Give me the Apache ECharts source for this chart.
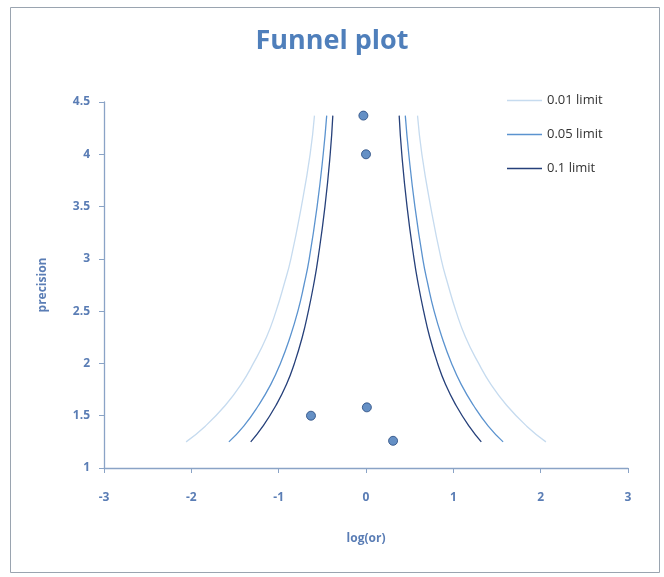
<!DOCTYPE html>
<html><head><meta charset="utf-8">
<script src="https://cdn.jsdelivr.net/npm/echarts@6/dist/echarts.min.js"></script>
<style>html,body{margin:0;padding:0;background:#fff}#c{width:664px;height:577px}</style>
</head><body><div id="c"></div>
<script>
// study points: [log(or), precision]
const studyX = [-0.03, 0.0, -0.63, 0.01, 0.31];
const studyY = [4.37, 4.0, 1.5, 1.58, 1.26];
// funnel limits
const precision = [1.25, 1.4, 1.6, 1.8, 2.0, 2.25, 2.5, 2.75, 3.0, 3.5, 4.0, 4.37];
const lim001 = [2.06, 1.84, 1.61, 1.43, 1.29, 1.14, 1.03, 0.94, 0.86, 0.74, 0.64, 0.59];
const lim005 = [1.57, 1.40, 1.23, 1.09, 0.98, 0.87, 0.78, 0.71, 0.65, 0.56, 0.49, 0.45];
const lim01  = [1.32, 1.18, 1.03, 0.91, 0.82, 0.73, 0.66, 0.60, 0.55, 0.47, 0.41, 0.38];
const limitNames = ['0.01 limit', '0.05 limit', '0.1 limit'];
const xTicks = [-3, -2, -1, 0, 1, 2, 3];
const yTicks = [1, 1.5, 2, 2.5, 3, 3.5, 4, 4.5];

const limitColors = ['#c6dbef', '#5b93cf', '#26407a'];
const limits = [lim001, lim005, lim01];
const series = [];
limits.forEach((arr, i) => {
  [-1, 1].forEach(sign => {
    series.push({
      name: limitNames[i], type: 'line', smooth: true, symbol: 'none',
      lineStyle: { color: limitColors[i], width: 1.3 },
      itemStyle: { color: limitColors[i] },
      data: precision.map((p, k) => [sign * arr[k], p]),
      z: 2
    });
  });
});
series.push({
  name: 'studies', type: 'scatter', symbolSize: 9,
  itemStyle: { color: '#3f74b6', borderColor: '#24477d', borderWidth: 1 },
  data: studyX.map((x, k) => [x, studyY[k]]), z: 5
});

const axisColor = '#8aa3c6';
const labelColor = '#5a7db5';
const font = 'Open Sans';
const chart = echarts.init(document.getElementById('c'));
chart.setOption({
  animation: false,
  backgroundColor: '#fff',
  title: { text: 'Funnel plot', left: 'center', top: 23,
    textStyle: { color: '#4f7fbb', fontSize: 27, fontWeight: 'bold', fontFamily: font } },
  legend: {
    show: true,
    data: limitNames.map(n => ({ name: n, icon: 'rect' })),
    orient: 'vertical', left: 502, top: 88,
    itemWidth: 35, itemHeight: 1.5, itemGap: 19,
    textStyle: { color: '#333', fontSize: 13, fontFamily: font, lineHeight: 15 }
  },
  grid: { left: 104, right: 36, top: 102, bottom: 109 },
  xAxis: {
    type: 'value', min: -3, max: 3, interval: 1,
    name: 'log(or)', nameLocation: 'middle', nameGap: 65,
    nameTextStyle: { color: labelColor, fontSize: 12, fontWeight: 'bold', fontFamily: font },
    axisLine: { onZero: false, lineStyle: { color: axisColor, width: 1.3 } },
    axisTick: { show: true, length: 5, lineStyle: { color: axisColor } },
    axisLabel: { color: labelColor, fontSize: 12, fontWeight: 'bold', fontFamily: font, margin: 24,
      formatter: v => xTicks.includes(v) ? String(v) : '' },
    splitLine: { show: false }
  },
  yAxis: {
    type: 'value', min: 1, max: 4.5, interval: 0.5,
    name: 'precision', nameLocation: 'middle', nameGap: 55, nameRotate: 90,
    nameTextStyle: { color: labelColor, fontSize: 12, fontWeight: 'bold', fontFamily: font },
    axisLine: { show: true, onZero: false, lineStyle: { color: axisColor, width: 1.3 } },
    axisTick: { show: true, length: 5, lineStyle: { color: axisColor } },
    axisLabel: { color: labelColor, fontSize: 12, fontWeight: 'bold', fontFamily: font, margin: 14,
      formatter: v => yTicks.includes(v) ? String(v) : '' },
    splitLine: { show: false }
  },
  graphic: [{ type: 'rect', left: 8, top: 5, shape: { width: 649, height: 565 },
    style: { fill: 'none', stroke: '#9aa4b0', lineWidth: 1 }, silent: true, z: -1 }],
  series: series
});
</script></body></html>
